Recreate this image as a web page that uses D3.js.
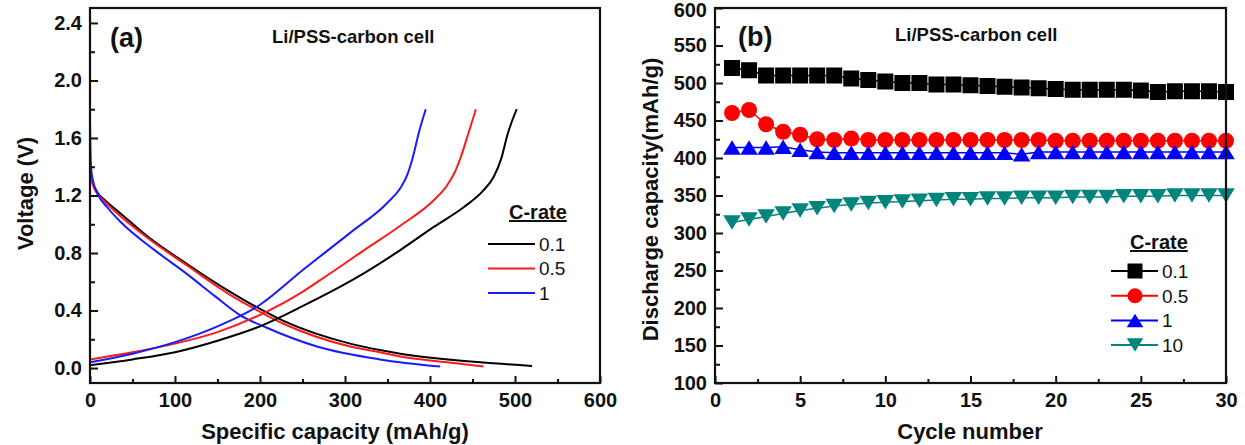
<!DOCTYPE html>
<html><head><meta charset="utf-8">
<script src="https://cdn.jsdelivr.net/npm/d3@7"></script>
<style>
body{margin:0;background:#fff}
svg{display:block}
text{font-family:"Liberation Sans",Arial,Helvetica,sans-serif;fill:#111}
</style>
</head><body>
<svg id="chart" width="1245" height="445"></svg>
<script>
// ---------- Panel (a) data: [specific capacity (mAh/g), voltage (V)] ----------
const rateNamesA = ["0.1", "0.5", "1"];
const discharge01 = [[0,1.42],[1,1.36],[3,1.30],[9,1.22],[17,1.17],[37,1.07],[71,0.90],[115,0.72],[162,0.54],[188,0.45],[227,0.33],[306,0.17],[341,0.125],[365,0.10],[459,0.04],[520,0.015]];
const discharge05 = [[0,1.38],[1,1.33],[3,1.28],[9,1.21],[17,1.16],[37,1.05],[71,0.89],[115,0.71],[162,0.52],[188,0.43],[227,0.31],[306,0.15],[341,0.11],[365,0.08],[420,0.04],[463,0.01]];
const discharge1  = [[0,1.73],[0.5,1.52],[1.5,1.38],[4,1.29],[9,1.21],[20,1.12],[37,1.01],[76,0.82],[115,0.65],[147,0.50],[176,0.37],[208,0.28],[267,0.15],[341,0.06],[412,0.01]];
const charge01 = [[0,0.02],[50,0.06],[100,0.11],[150,0.19],[200,0.29],[250,0.43],[314,0.63],[365,0.82],[404,0.98],[440,1.12],[462,1.23],[475,1.33],[484,1.46],[491,1.62],[502,1.80]];
const charge05 = [[0,0.06],[50,0.11],[100,0.17],[150,0.25],[200,0.37],[250,0.53],[278,0.64],[320,0.81],[365,0.99],[405,1.17],[420,1.27],[429,1.36],[437,1.48],[444,1.61],[454,1.80]];
const charge1  = [[0,0.04],[50,0.10],[100,0.18],[150,0.29],[200,0.44],[250,0.68],[306,0.94],[350,1.15],[365,1.25],[373,1.34],[380,1.47],[387,1.64],[395,1.80]];
const xTicksA = [0,100,200,300,400,500,600];
const xMinorA = [50,150,250,350,450,550];
const yTicksA = [0.0,0.4,0.8,1.2,1.6,2.0,2.4];
const yMinorA = [0.2,0.6,1.0,1.4,1.8,2.2];

// ---------- Panel (b) data: discharge capacity (mAh/g) per cycle ----------
const cycles = d3.range(1, 31);
const rateNamesB = ["0.1", "0.5", "1", "10"];
const cap01 = [520,517,510,510,510,510,510,506,504,502,500,500,498,498,497,496,495,494,493,492,491,491,491,491,490,488,489,489,489,488];
const cap05 = [460,464,445,435,431,425,424,426,424,424,424,424,424,424,424,424,424,424,424,423,423,423,423,423,423,423,423,423,423,423];
const cap1  = [414,414,414,415,411,408,407,407,407,407,407,407,407,407,407,407,407,405,408,408,408,408,408,408,408,408,408,408,408,408];
const cap10 = [314,318,322,326,330,333,336,338,340,341,342,343,344,345,345,346,346,347,347,347,348,348,348,349,349,349,350,350,350,350];
const xTicksB = [0,5,10,15,20,25,30];
const xMinorB = [2.5,7.5,12.5,17.5,22.5,27.5];
const yTicksB = [100,150,200,250,300,350,400,450,500,550,600];
const yMinorB = [125,175,225,275,325,375,425,475,525,575];

// ---------- styles ----------
const colorsA = ["#000000", "#ff1a1a", "#1a1aff"];
const colorsB = ["#000000", "#ff0000", "#0000ff", "#00857d"];
const shapesB = ["square", "circle", "up", "down"];

const svg = d3.select("#chart");

function frameAndAxes(g, x, y, xt, xm, yt, ym, W, H, fmtY) {
  const axX = g.append("g").attr("transform", `translate(0,${H})`)
    .call(d3.axisBottom(x).tickValues(xt).tickSizeInner(-7).tickSizeOuter(0).tickPadding(10).tickFormat(d3.format("d")));
  g.append("g").attr("transform", `translate(0,${H})`)
    .call(d3.axisBottom(x).tickValues(xm).tickSizeInner(-4).tickSizeOuter(0).tickFormat(""));
  const axY = g.append("g")
    .call(d3.axisLeft(y).tickValues(yt).tickSizeInner(-8).tickSizeOuter(0).tickPadding(8).tickFormat(fmtY));
  g.append("g")
    .call(d3.axisLeft(y).tickValues(ym).tickSizeInner(-5).tickSizeOuter(0).tickFormat(""));
  g.selectAll(".domain").remove();
  g.selectAll(".tick line").attr("stroke", "#111").attr("stroke-width", 2);
  g.selectAll(".tick text").attr("font-size", 20).attr("font-weight", "bold").attr("fill", "#111")
    .style("font-family", '"Liberation Sans",Arial,sans-serif');
  axX.selectAll(".tick text").attr("dy", "0.71em");
  // keep the topmost y label inside the page
  axY.selectAll(".tick text").filter(d => y(d) < 10).attr("dy", "0.42em");
  g.append("rect").attr("x", 0).attr("y", 0).attr("width", W).attr("height", H)
    .attr("fill", "none").attr("stroke", "#111").attr("stroke-width", 2.2);
}

// ================= Panel (a) =================
{
  const L = 90, T = 8, W = 510, H = 375;
  const g = svg.append("g").attr("transform", `translate(${L},${T})`);
  const x = d3.scaleLinear().domain([0, 600]).range([0, W]);
  const y = d3.scaleLinear().domain([-0.104, 2.504]).range([H, 0]);
  const line = d3.line().x(d => x(d[0])).y(d => y(d[1])).curve(d3.curveMonotoneX);
  const curves = [[discharge01, 0], [discharge05, 1], [discharge1, 2], [charge01, 0], [charge05, 1], [charge1, 2]];
  const plot = g.append("g");
  curves.forEach(([data, i]) => {
    plot.append("path").datum(data).attr("d", line).attr("fill", "none")
      .attr("stroke", colorsA[i]).attr("stroke-width", 2);
  });
  frameAndAxes(g, x, y, xTicksA, xMinorA, yTicksA, yMinorA, W, H, d3.format(".1f"));

  g.append("text").attr("x", 20).attr("y", 39).attr("font-size", 27).attr("font-weight", "bold").text("(a)");
  g.append("text").attr("x", 182).attr("y", 35).attr("font-size", 18.5).attr("font-weight", "bold").text("Li/PSS-carbon cell");
  svg.append("text").attr("x", L + W / 2 - 10).attr("y", 439).attr("text-anchor", "middle")
    .attr("font-size", 22).attr("font-weight", "bold").text("Specific capacity (mAh/g)");
  svg.append("text").attr("transform", `translate(33,${T + H / 2 - 2}) rotate(-90)`).attr("text-anchor", "middle")
    .attr("font-size", 22).attr("font-weight", "bold").text("Voltage (V)");

  // legend
  const lg = svg.append("g");
  lg.append("text").attr("x", 509).attr("y", 219).attr("font-size", 20).attr("font-weight", "bold")
    .attr("text-decoration", "underline").text("C-rate");
  rateNamesA.forEach((name, i) => {
    const yy = 244 + i * 24.5;
    lg.append("line").attr("x1", 488).attr("x2", 535).attr("y1", yy).attr("y2", yy)
      .attr("stroke", colorsA[i]).attr("stroke-width", 2);
    lg.append("text").attr("x", 539).attr("y", yy).attr("dy", "0.36em").attr("font-size", 19).attr("fill", "#333").text(name);
  });
}

// ================= Panel (b) =================
function marker(sel, shape, color, s) {
  if (shape === "square") {
    sel.append("rect").attr("x", -s / 2).attr("y", -s / 2).attr("width", s).attr("height", s).attr("fill", color);
  } else if (shape === "circle") {
    sel.append("circle").attr("r", s / 2).attr("fill", color);
  } else if (shape === "up") {
    const h = s * 0.9;
    sel.append("path").attr("d", `M0,${-h / 2}L${s * 0.55},${h / 2}L${-s * 0.55},${h / 2}Z`).attr("fill", color);
  } else {
    const h = s * 0.9;
    sel.append("path").attr("d", `M0,${h / 2}L${s * 0.55},${-h / 2}L${-s * 0.55},${-h / 2}Z`).attr("fill", color);
  }
}
{
  const L = 715, T = 8, W = 511, H = 375;
  const g = svg.append("g").attr("transform", `translate(${L},${T})`);
  const x = d3.scaleLinear().domain([0, 30]).range([0, W]);
  const y = d3.scaleLinear().domain([100, 600]).range([H, 0]);
  const series = [cap01, cap05, cap1, cap10];
  const line = d3.line().x((d, i) => x(cycles[i])).y(d => y(d));
  const plot = g.append("g");
  series.forEach((vals, k) => {
    plot.append("path").datum(vals).attr("d", line).attr("fill", "none")
      .attr("stroke", colorsB[k]).attr("stroke-width", 1.5);
    vals.forEach((v, i) => {
      const m = plot.append("g").attr("transform", `translate(${x(cycles[i])},${y(v)})`);
      marker(m, shapesB[k], colorsB[k], 16);
    });
  });
  frameAndAxes(g, x, y, xTicksB, xMinorB, yTicksB, yMinorB, W, H, d3.format("d"));

  g.append("text").attr("x", 23).attr("y", 38).attr("font-size", 27).attr("font-weight", "bold").text("(b)");
  g.append("text").attr("x", 180).attr("y", 33).attr("font-size", 18.5).attr("font-weight", "bold").text("Li/PSS-carbon cell");
  svg.append("text").attr("x", 970).attr("y", 439).attr("text-anchor", "middle")
    .attr("font-size", 22).attr("font-weight", "bold").text("Cycle number");
  svg.append("text").attr("transform", `translate(658,${T + H / 2 + 4}) rotate(-90)`).attr("text-anchor", "middle")
    .attr("font-size", 22).attr("font-weight", "bold").text("Discharge capacity(mAh/g)");

  const lg = svg.append("g");
  lg.append("text").attr("x", 1130).attr("y", 249).attr("font-size", 20).attr("font-weight", "bold")
    .attr("text-decoration", "underline").text("C-rate");
  rateNamesB.forEach((name, k) => {
    const yy = 271 + k * 24.7;
    lg.append("line").attr("x1", 1111).attr("x2", 1158).attr("y1", yy).attr("y2", yy)
      .attr("stroke", colorsB[k]).attr("stroke-width", 2);
    const m = lg.append("g").attr("transform", `translate(1135,${yy})`);
    marker(m, shapesB[k], colorsB[k], 15);
    lg.append("text").attr("x", 1162).attr("y", yy).attr("dy", "0.36em").attr("font-size", 19).attr("fill", "#333").text(name);
  });
}
</script>
</body></html>
